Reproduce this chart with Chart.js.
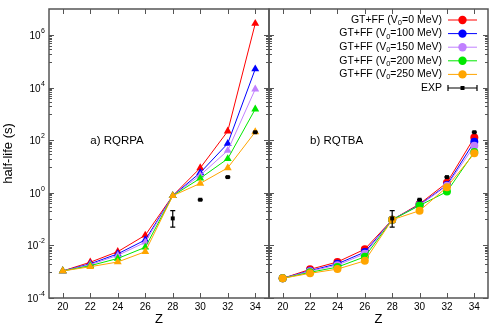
<!DOCTYPE html>
<html>
<head>
<meta charset="utf-8">
<script src="https://cdn.jsdelivr.net/npm/chart.js@4.4.4/dist/chart.umd.min.js"></script>
<style>
  html, body { margin: 0; padding: 0; background: #fff; }
  #wrap { position: relative; width: 498px; height: 332px; overflow: hidden; }
  canvas { position: absolute; top: 0; }
  #left { left: 0; }
  #right { left: 263px; }
</style>
</head>
<body>
<div id="wrap">
  <canvas id="left" width="275" height="332"></canvas>
  <canvas id="right" width="235" height="332"></canvas>
</div>
<script>
const FONT = "'Liberation Sans', Arial, Helvetica, sans-serif";

// proton number Z of the isotopes
const Z = [20, 22, 24, 26, 28, 30, 32, 34];

// a) RQRPA half-lives (s), one array per V0
const rqrpaV0_0   = [1.07e-3, 2.3e-3,  5.8e-3,  0.0245, 0.78, 8.9, 224, 2.8e6];
const rqrpaV0_100 = [1.07e-3, 2.0e-3,  4.8e-3,  0.0162, 0.78, 5.9, 76,  5.2e4];
const rqrpaV0_150 = [1.07e-3, 1.86e-3, 4.2e-3,  0.0132, 0.78, 4.7, 41,  8.9e3];
const rqrpaV0_200 = [1.07e-3, 1.7e-3,  3.2e-3,  8.5e-3, 0.78, 3.6, 20,  1.55e3];
const rqrpaV0_250 = [1.07e-3, 1.55e-3, 2.35e-3, 5.8e-3, 0.78, 2.3, 9.0, 209];

// b) RQTBA half-lives (s)
const rqtbaV0_0   = [5.6e-4, 1.23e-3, 2.35e-3, 7.2e-3, 0.095, 0.38, 2.45, 129];
const rqtbaV0_100 = [5.6e-4, 1.1e-3,  2.0e-3,  5.6e-3, 0.095, 0.355, 2.0, 89];
const rqtbaV0_150 = [5.6e-4, 1.05e-3, 1.78e-3, 4.8e-3, 0.095, 0.34, 1.86, 62];
const rqtbaV0_200 = [5.6e-4, 9.5e-4,  1.5e-3,  3.7e-3, 0.095, 0.33, 1.12, 36];
const rqtbaV0_250 = [5.6e-4, 8.7e-4,  1.26e-3, 2.6e-3, 0.095, 0.21, 1.66, 32];

// experiment
const expZ = [28, 30, 32, 34];
const expHalfLife = [0.107, 0.55, 4.0, 204];
const expLow  = [0.05, 0.53, 3.85, 196];
const expHigh = [0.21, 0.57, 4.15, 212];

const v0Values = [0, 100, 150, 200, 250];
const seriesColors = ['#ff0000', '#0000ff', '#c080ff', '#00e800', '#ffa500'];

const xTicks = [20, 22, 24, 26, 28, 30, 32, 34];
const yTicks = [1e-4, 1e-2, 1, 1e2, 1e4, 1e6];
const yMinorExp = [-3, -1, 1, 3, 5];

function toPoints(xs, ys) {
  return xs.map((x, i) => ({x: x, y: ys[i]}));
}

function buildDatasets(series, style, radius) {
  const ds = series.map((ys, i) => ({
    label: 'GT+FF (V0=' + v0Values[i] + ' MeV)',
    data: toPoints(Z, ys),
    borderColor: seriesColors[i],
    backgroundColor: seriesColors[i],
    borderWidth: 1,
    pointStyle: style,
    pointRadius: radius,
    pointBorderWidth: 0,
    tension: 0,
    order: series.length - i,
  }));
  ds.push({
    label: 'EXP',
    data: toPoints(expZ, expHalfLife),
    showLine: false,
    pointStyle: 'rect',
    pointRadius: 2.8,
    pointBorderWidth: 0,
    backgroundColor: '#000',
    borderColor: '#000',
    order: 0,
  });
  return ds;
}

// gnuplot-like frame, inward ticks, error bars, labels and legend
const gnuPlugin = {
  id: 'gnu',
  beforeDatasetsDraw(chart) {
    const {ctx, chartArea: a, scales: {x, y}} = chart;
    ctx.save();
    ctx.strokeStyle = '#555';
    ctx.lineWidth = 1;
    ctx.beginPath();
    xTicks.forEach(v => {
      const px = Math.round(x.getPixelForValue(v)) + 0.5;
      ctx.moveTo(px, a.bottom); ctx.lineTo(px, a.bottom - 5);
      ctx.moveTo(px, a.top); ctx.lineTo(px, a.top + 5);
    });
    yTicks.forEach(v => {
      const py = Math.round(y.getPixelForValue(v)) + 0.5;
      ctx.moveTo(a.left, py); ctx.lineTo(a.left + 5, py);
      ctx.moveTo(a.right, py); ctx.lineTo(a.right - 5, py);
    });
    yMinorExp.forEach(e => {
      for (let k = 1; k <= 9; k++) {
        const py = Math.round(y.getPixelForValue(k * Math.pow(10, e))) + 0.5;
        ctx.moveTo(a.left, py); ctx.lineTo(a.left + 3, py);
        ctx.moveTo(a.right, py); ctx.lineTo(a.right - 3, py);
      }
    });
    ctx.stroke();
    ctx.lineWidth = 1.5;
    ctx.strokeRect(a.left, a.top, a.width, a.height);
    ctx.restore();
  },
  afterDatasetsDraw(chart, args, opts) {
    const {ctx, chartArea: a, scales: {x, y}} = chart;
    ctx.save();
    // error bars
    ctx.strokeStyle = '#000';
    ctx.lineWidth = 1.2;
    ctx.beginPath();
    expZ.forEach((z, i) => {
      const px = x.getPixelForValue(z);
      const pLo = y.getPixelForValue(expLow[i]);
      const pHi = y.getPixelForValue(expHigh[i]);
      ctx.moveTo(px, pLo); ctx.lineTo(px, pHi);
      ctx.moveTo(px - 2.5, pLo); ctx.lineTo(px + 2.5, pLo);
      ctx.moveTo(px - 2.5, pHi); ctx.lineTo(px + 2.5, pHi);
    });
    ctx.stroke();

    ctx.fillStyle = '#000';
    // y tick labels with superscript exponents
    if (opts.yLabels) {
      ctx.textBaseline = 'middle';
      yTicks.forEach(v => {
        const py = y.getPixelForValue(v);
        const exp = String(Math.round(Math.log10(v)));
        ctx.font = '7px ' + FONT;
        const we = ctx.measureText(exp).width;
        ctx.textAlign = 'left';
        const right = a.left - 4;
        ctx.fillText(exp, right - we, py - 4);
        ctx.font = '10px ' + FONT;
        ctx.textAlign = 'right';
        ctx.fillText('10', right - we - 0.5, py + 1);
      });
    }
    // panel label
    ctx.font = '11.5px ' + FONT;
    ctx.textAlign = 'left';
    ctx.textBaseline = 'middle';
    ctx.fillText(opts.panel, x.getPixelForValue(22), y.getPixelForValue(100));

    // legend
    if (opts.legend) {
      const textRight = a.right - 46;
      const x0 = a.right - 40, x1 = a.right - 11, xm = (x0 + x1) / 2;
      chart.data.datasets.forEach((d, i) => {
        const ry = a.top + 11 + i * 13.6;
        ctx.fillStyle = '#000';
        ctx.textBaseline = 'middle';
        if (d.label === 'EXP') {
          ctx.font = '10.5px ' + FONT;
          ctx.textAlign = 'right';
          ctx.fillText('EXP', textRight, ry);
          ctx.strokeStyle = '#000';
          ctx.lineWidth = 1.2;
          ctx.beginPath();
          ctx.moveTo(x0, ry); ctx.lineTo(x1, ry);
          ctx.moveTo(x0, ry - 3); ctx.lineTo(x0, ry + 3);
          ctx.moveTo(x1, ry - 3); ctx.lineTo(x1, ry + 3);
          ctx.stroke();
          ctx.fillRect(xm - 2, ry - 2, 4, 4);
          return;
        }
        const head = 'GT+FF (V', sub = '0', tail = '=' + v0Values[i] + ' MeV)';
        ctx.textAlign = 'left';
        ctx.font = '10.5px ' + FONT;
        const wh = ctx.measureText(head).width, wt = ctx.measureText(tail).width;
        ctx.font = '7.5px ' + FONT;
        const ws = ctx.measureText(sub).width;
        let cx = textRight - wh - ws - wt;
        ctx.font = '10.5px ' + FONT;
        ctx.fillText(head, cx, ry);
        cx += wh;
        ctx.font = '7.5px ' + FONT;
        ctx.fillText(sub, cx, ry + 3);
        cx += ws;
        ctx.font = '10.5px ' + FONT;
        ctx.fillText(tail, cx, ry);
        ctx.strokeStyle = d.borderColor;
        ctx.lineWidth = 1;
        ctx.beginPath();
        ctx.moveTo(x0, ry); ctx.lineTo(x1, ry);
        ctx.stroke();
        ctx.fillStyle = d.backgroundColor;
        ctx.beginPath();
        ctx.arc(xm, ry, 4.2, 0, Math.PI * 2);
        ctx.fill();
      });
    }
    ctx.restore();
  }
};

function makeChart(id, datasets, opts) {
  return new Chart(document.getElementById(id), {
    type: 'line',
    data: {datasets: datasets},
    options: {
      responsive: false,
      animation: false,
      events: [],
      layout: {padding: opts.padding},
      plugins: {
        legend: {display: false},
        tooltip: {enabled: false},
        gnu: {panel: opts.panel, legend: opts.legend, yLabels: opts.yLabels},
      },
      scales: {
        x: {
          type: 'linear',
          min: 19,
          max: 35,
          afterBuildTicks: s => { s.ticks = xTicks.map(v => ({value: v})); },
          afterFit: s => { s.height = 34; },
          grid: {display: false, drawTicks: false},
          border: {display: false},
          ticks: {padding: 3, color: '#000', autoSkip: false, maxRotation: 0,
                  font: {family: FONT, size: 10}},
          title: {display: true, text: 'Z', color: '#000', padding: {top: 0, bottom: 5},
                  font: {family: FONT, size: 13}},
        },
        y: {
          type: 'logarithmic',
          display: opts.yLabels,
          min: 1e-4,
          max: 1e7,
          afterBuildTicks: s => { s.ticks = yTicks.map(v => ({value: v})); },
          afterFit: s => { s.width = opts.yLabels ? 49 : 0; },
          grid: {display: false, drawTicks: false},
          border: {display: false},
          ticks: {display: false},
          title: {display: true, text: 'half-life (s)', color: '#000', padding: {top: 1, bottom: 0},
                  font: {family: FONT, size: 13}},
        },
      },
    },
    plugins: [gnuPlugin],
  });
}

makeChart('left',
  buildDatasets([rqrpaV0_0, rqrpaV0_100, rqrpaV0_150, rqrpaV0_200, rqrpaV0_250], 'triangle', 4.6),
  {padding: {top: 9, right: 6, bottom: 0, left: 0}, panel: 'a) RQRPA', legend: false, yLabels: true});

makeChart('right',
  buildDatasets([rqtbaV0_0, rqtbaV0_100, rqtbaV0_150, rqtbaV0_200, rqtbaV0_250], 'circle', 4),
  {padding: {top: 9, right: 10, bottom: 0, left: 6}, panel: 'b) RQTBA', legend: true, yLabels: false});
</script>
</body>
</html>
